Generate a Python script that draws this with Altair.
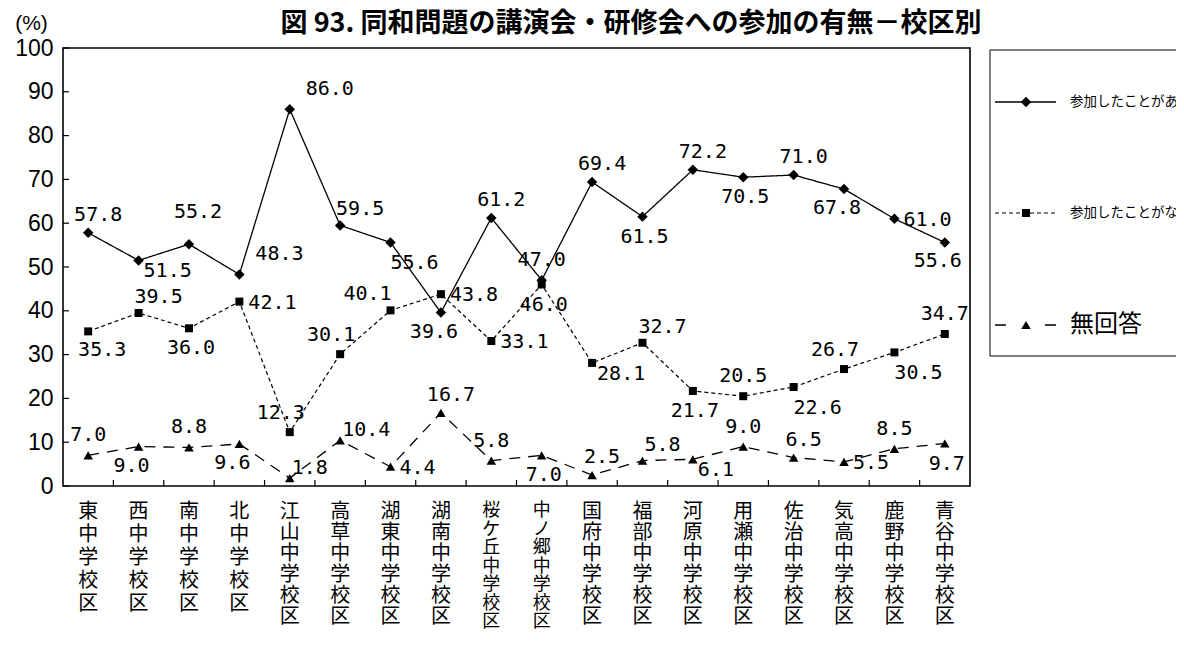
import altair as alt
import pandas as pd

# ---------------- data ----------------
TITLE = "図 93. 同和問題の講演会・研修会への参加の有無－校区別"
SCHOOLS = ["東中学校区", "西中学校区", "南中学校区", "北中学校区", "江山中学校区",
           "高草中学校区", "湖東中学校区", "湖南中学校区", "桜ケ丘中学校区", "中ノ郷中学校区",
           "国府中学校区", "福部中学校区", "河原中学校区", "用瀬中学校区", "佐治中学校区",
           "気高中学校区", "鹿野中学校区", "青谷中学校区"]
SERIES = ["参加したことがある", "参加したことがない", "無回答"]
VALUES_ATTENDED = [57.8, 51.5, 55.2, 48.3, 86.0, 59.5, 55.6, 39.6, 61.2, 47.0,
                   69.4, 61.5, 72.2, 70.5, 71.0, 67.8, 61.0, 55.6]
VALUES_NOT_ATTENDED = [35.3, 39.5, 36.0, 42.1, 12.3, 30.1, 40.1, 43.8, 33.1, 46.0,
                       28.1, 32.7, 21.7, 20.5, 22.6, 26.7, 30.5, 34.7]
VALUES_NO_ANSWER = [7.0, 9.0, 8.8, 9.6, 1.8, 10.4, 4.4, 16.7, 5.8, 7.0,
                    2.5, 5.8, 6.1, 9.0, 6.5, 5.5, 8.5, 9.7]
Y_TICKS = [0, 10, 20, 30, 40, 50, 60, 70, 80, 90, 100]

# ---------------- label placement (style) ----------------
PLACE_ATTENDED = ["NE", "ESE", "NN", "EN", "EN", "NEE", "SEE", "SW", "NE", "N",
                  "NE", "S", "NE", "S", "NE", "SW", "E", "SW"]
PLACE_NOT_ATTENDED = ["SE", "NEE", "S", "E", "NW", "NW", "NWW", "E", "E", "S",
                      "ESE", "NEE", "S", "N", "SEE", "NW", "SEE", "N"]
PLACE_NO_ANSWER = ["N", "SW", "N", "SW", "ENE", "ENE", "E", "NE", "N", "S",
                   "NE", "NEE", "ESE", "N", "NE", "E", "N", "S"]
PLACEMENTS = {
    "N": ("center", 0, -20),
    "NN": ("center", 9, -32),
    "NE": ("center", 10, -18),
    "NEE": ("center", 20, -16),
    "NW": ("center", -9, -19),
    "NWW": ("center", -23, -16),
    "S": ("center", 2, 20),
    "SW": ("center", -7, 19),
    "SE": ("center", 14, 19),
    "SEE": ("center", 24, 21),
    "E": ("left", 9, 1),
    "ENE": ("left", 2, -10),
    "EN": ("left", 16, -20),
    "ESE": ("left", 5, 11),
}

STYLES = {
    SERIES[0]: dict(dash=[1, 0], shape="diamond", size=110, sw=1.3),
    SERIES[1]: dict(dash=[4, 3], shape="square", size=64, sw=1.2),
    SERIES[2]: dict(dash=[11, 8], shape="triangle-up", size=90, sw=1.3),
}

W, H = 907, 438
NUM_FONT = "DejaVu Sans Mono"
AXIS_FONT = "Liberation Sans Narrow, Liberation Sans"
JP_FONT = "Noto Sans CJK JP"

rows = []
for s, vals, pos in zip(SERIES,
                        [VALUES_ATTENDED, VALUES_NOT_ATTENDED, VALUES_NO_ANSWER],
                        [PLACE_ATTENDED, PLACE_NOT_ATTENDED, PLACE_NO_ANSWER]):
    for i, (sc, v, p) in enumerate(zip(SCHOOLS, vals, pos)):
        rows.append({"school": sc, "series": s, "value": v, "idx": i,
                     "label": f"{v:.1f}", "pos": p})
df = pd.DataFrame(rows)

XSCALE = alt.Scale(type="band", paddingInner=0, paddingOuter=0)
X = alt.X("school:N", sort=SCHOOLS, scale=XSCALE, axis=None, bandPosition=0.5)
Y = alt.Y("value:Q", scale=alt.Scale(domain=[0, 100], nice=False),
          axis=alt.Axis(values=Y_TICKS, ticks=False, domain=False, grid=False,
                        labelFont=AXIS_FONT, labelFontSize=23, labelColor="black",
                        labelPadding=10, labelBaseline="middle",
                        title="(%)", titleAngle=0, titleX=-32, titleY=-25,
                        titleFont="Liberation Sans", titleFontSize=21,
                        titleFontWeight="normal", titleColor="black",
                        titleAlign="center", titleBaseline="middle"))

base = alt.Chart(df)
layers = []
for s in SERIES:
    st = STYLES[s]
    sub = base.transform_filter(alt.datum.series == s)
    layers.append(sub.mark_line(color="black", strokeWidth=st["sw"], strokeDash=st["dash"])
                  .encode(x=X, y=Y, order=alt.Order("idx:Q")))
for s in SERIES:
    st = STYLES[s]
    sub = base.transform_filter(alt.datum.series == s)
    layers.append(sub.mark_point(shape=st["shape"], size=st["size"], filled=True,
                                 color="black", opacity=1)
                  .encode(x=X, y=Y))
for code, (align, dx, dy) in PLACEMENTS.items():
    layers.append(base.transform_filter(alt.FieldOneOfPredicate(field="pos", oneOf=[code]))
                  .mark_text(font=NUM_FONT, fontSize=20, align=align, baseline="middle",
                             dx=dx, dy=dy, color="black")
                  .encode(x=X, y=Y, text="label:N"))

# inner ticks on x (band boundaries) and y
xticks = alt.Chart(pd.DataFrame({"school": SCHOOLS[1:]})).mark_rule(
    color="black", strokeWidth=1.2).encode(
    x=alt.X("school:N", sort=SCHOOLS, scale=XSCALE, axis=None, bandPosition=0),
    y=alt.value(H), y2=alt.value(H - 6))
yticks = alt.Chart(pd.DataFrame({"value": Y_TICKS})).mark_rule(
    color="black", strokeWidth=1.2).encode(y=Y, x=alt.value(0), x2=alt.value(6))
layers += [xticks, yticks]

# vertical category labels
labdf = alt.Chart(pd.DataFrame({"school": SCHOOLS})).transform_calculate(
    lines="split(datum.school, '')", n="length(datum.school)")
for n, fs, lh in [(5, 20, 23), (6, 20, 21), (7, 18, 18.5)]:
    layers.append(labdf.transform_filter(alt.datum.n == n)
                  .mark_text(font=JP_FONT, fontSize=fs, lineHeight=lh, baseline="top",
                             align="center", color="black")
                  .encode(x=X, y=alt.value(H + 16), text="lines:N"))

# title
one = pd.DataFrame({"k": [0]})
layers.append(alt.Chart(one).mark_text(font=JP_FONT, fontSize=27, fontWeight="bold",
                                       align="center", baseline="middle", color="black",
                                       text=TITLE)
              .encode(x=alt.value(568), y=alt.value(-24)))

# legend (manual)
LX0, LX1, LXM, LXT = 932, 993, 963, 1007
LEG_Y = [54, 165, 277]
layers.append(alt.Chart(one).mark_rect(fillOpacity=0, stroke="black", strokeWidth=1)
              .encode(x=alt.value(927), x2=alt.value(1250), y=alt.value(2), y2=alt.value(308)))
leg_dash = {SERIES[0]: [1, 0], SERIES[1]: [4, 3], SERIES[2]: [11, 39]}
leg_font = {SERIES[0]: 13.5, SERIES[1]: 13.5, SERIES[2]: 24}
for s, ly in zip(SERIES, LEG_Y):
    st = STYLES[s]
    layers.append(alt.Chart(one).mark_rule(color="black", strokeWidth=st["sw"],
                                           strokeDash=leg_dash[s])
                  .encode(x=alt.value(LX0), x2=alt.value(LX1), y=alt.value(ly)))
    layers.append(alt.Chart(one).mark_point(shape=st["shape"], size=st["size"], filled=True,
                                            color="black", opacity=1)
                  .encode(x=alt.value(LXM), y=alt.value(ly)))
    layers.append(alt.Chart(one).mark_text(font=JP_FONT, fontSize=leg_font[s], align="left",
                                           baseline="middle", color="black", text=s)
                  .encode(x=alt.value(LXT), y=alt.value(ly)))

chart = alt.layer(*layers).properties(
    width=W, height=H,
    padding={"left": 55, "top": 40, "right": 206, "bottom": 146},
    autosize=alt.AutoSizeParams(type="none"),
    background="white",
).configure_view(stroke="black", strokeWidth=1.6)

chart.save("out.html", embed_options={"renderer": "svg", "actions": False})
